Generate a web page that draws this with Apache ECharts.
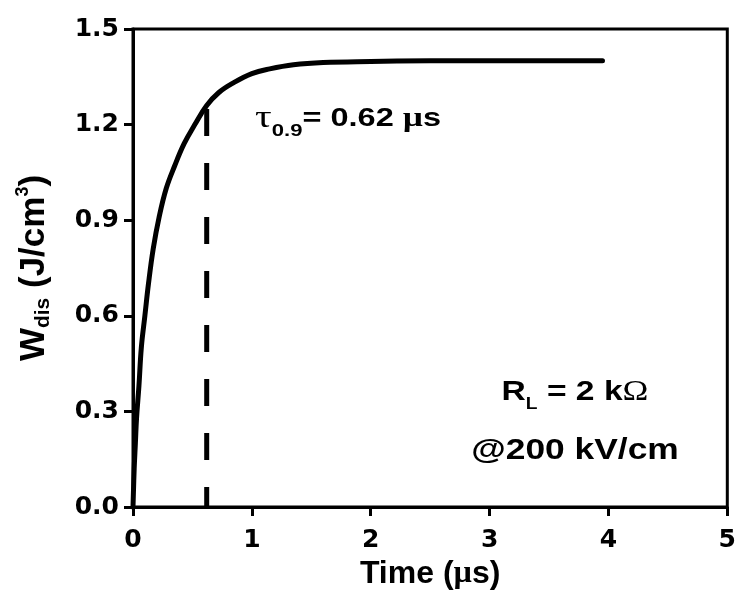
<!DOCTYPE html>
<html>
<head>
<meta charset="utf-8">
<script src="https://cdn.jsdelivr.net/npm/echarts@6/dist/echarts.min.js"></script>
<style>html,body{margin:0;padding:0;background:#fff}#c{width:739px;height:595px}</style>
</head>
<body>
<div id="c"></div>
<script>
// Data
var timeUs = [0, 0.01, 0.02, 0.03, 0.05, 0.07, 0.1, 0.13, 0.17, 0.22, 0.28, 0.35, 0.43, 0.52, 0.62, 0.72, 0.84, 1.0, 1.15, 1.35, 1.6, 2.0, 2.5, 3.0, 3.5, 3.95];
var wdis   = [0, 0.12, 0.2, 0.28, 0.38, 0.5, 0.6, 0.7, 0.81, 0.91, 1.0, 1.07, 1.14, 1.2, 1.26, 1.3, 1.33, 1.36, 1.375, 1.388, 1.395, 1.398, 1.4, 1.4, 1.4, 1.4];
var tauTime = [0.62, 0.62];
var tauW = [0, 1.26];
var xTicks = [0, 1, 2, 3, 4, 5];
var yTicks = [0.0, 0.3, 0.6, 0.9, 1.2, 1.5];

var curve = timeUs.map(function (t, i) { return [t, wdis[i]]; });
var tauLine = tauTime.map(function (t, i) { return [t, tauW[i]]; });

var chart = echarts.init(document.getElementById('c'));
var SANS = '"Liberation Sans", Arial, sans-serif';
var SERIF = '"Liberation Serif", "Times New Roman", serif';
chart.setOption({
  backgroundColor: '#fff',
  animation: false,
  grid: { left: 133, right: 8, top: 29, bottom: 88, show: true, borderColor: '#000', borderWidth: 3, containLabel: false },
  xAxis: {
    type: 'value', min: xTicks[0], max: xTicks[xTicks.length - 1], interval: 1,
    axisLine: { lineStyle: { color: '#000', width: 3 } },
    axisTick: { show: true, inside: false, length: 9, lineStyle: { color: '#000', width: 3 } },
    splitLine: { show: false },
    axisLabel: { color: '#000', fontFamily: '"DejaVu Sans", sans-serif', fontWeight: 'bold', fontSize: 25, margin: 21 },
    name: 'Time ({u|µ}s)', nameLocation: 'middle', nameGap: 46,
    nameTextStyle: { color: '#000', fontFamily: SANS, fontWeight: 'bold', fontSize: 32,
      rich: { u: { fontFamily: SERIF, fontWeight: 'bold', fontSize: 32, color: '#000' } } }
  },
  yAxis: {
    type: 'value', min: yTicks[0], max: yTicks[yTicks.length - 1], interval: 0.3,
    axisLine: { lineStyle: { color: '#000', width: 3 } },
    axisTick: { show: true, inside: false, length: 9, lineStyle: { color: '#000', width: 3 } },
    splitLine: { show: false },
    axisLabel: { color: '#000', fontFamily: '"DejaVu Sans", sans-serif', fontWeight: 'bold', fontSize: 25, margin: 14,
      formatter: function (v) { return v.toFixed(1); } },
    name: '{a|W}{b|dis}{a| (J/cm}{c|3}{a|)}', nameLocation: 'middle', nameGap: 79,
    nameTextStyle: { color: '#000',
      rich: {
        a: { fontFamily: SANS, fontWeight: 'bold', fontSize: 35, color: '#000' },
        b: { fontFamily: SANS, fontWeight: 'bold', fontSize: 21, color: '#000', padding: [18, 0, 0, 0] },
        c: { fontFamily: SANS, fontWeight: 'bold', fontSize: 18, color: '#000', padding: [0, 0, 22, 0] }
      } }
  },
  series: [
    { type: 'line', data: curve, symbol: 'none', smooth: 0.4,
      lineStyle: { color: '#000', width: 5, cap: 'round', join: 'round' }, z: 3 },
    { type: 'line', data: tauLine, symbol: 'none',
      lineStyle: { color: '#000', width: 5, type: [27, 27], dashOffset: 7 }, z: 2 }
  ],
  graphic: [
    { type: 'text', x: 255, y: 119, scaleX: 1.3,
      style: { text: '{t|τ}{s|0.9}{b|= 0.62 }{u|µ}{b|s}', textVerticalAlign: 'middle', fill: '#000',
        rich: {
          t: { font: 'normal 32px ' + SERIF, fill: '#000' },
          s: { font: 'bold 17px ' + SANS, fill: '#000', padding: [24, 0, 0, 0] },
          b: { font: 'bold 25px ' + SANS, fill: '#000' },
          u: { font: 'bold 27px ' + SERIF, fill: '#000' }
        } } },
    { type: 'text', x: 575, y: 392, scaleX: 1.2,
      style: { text: '{b|R}{s|L}{b| = 2 k}{o|Ω}', textAlign: 'center', textVerticalAlign: 'middle', fill: '#000',
        rich: {
          b: { font: 'bold 28px ' + SANS, fill: '#000' },
          s: { font: 'bold 16px ' + SANS, fill: '#000', padding: [26, 0, 0, 0] },
          o: { font: 'normal 29px ' + SERIF, fill: '#000' }
        } } },
    { type: 'text', x: 575, y: 451, scaleX: 1.22,
      style: { text: '@200 kV/cm', textAlign: 'center', textVerticalAlign: 'middle', fill: '#000',
        font: 'bold 29px ' + SANS } }
  ]
});
</script>
</body>
</html>
